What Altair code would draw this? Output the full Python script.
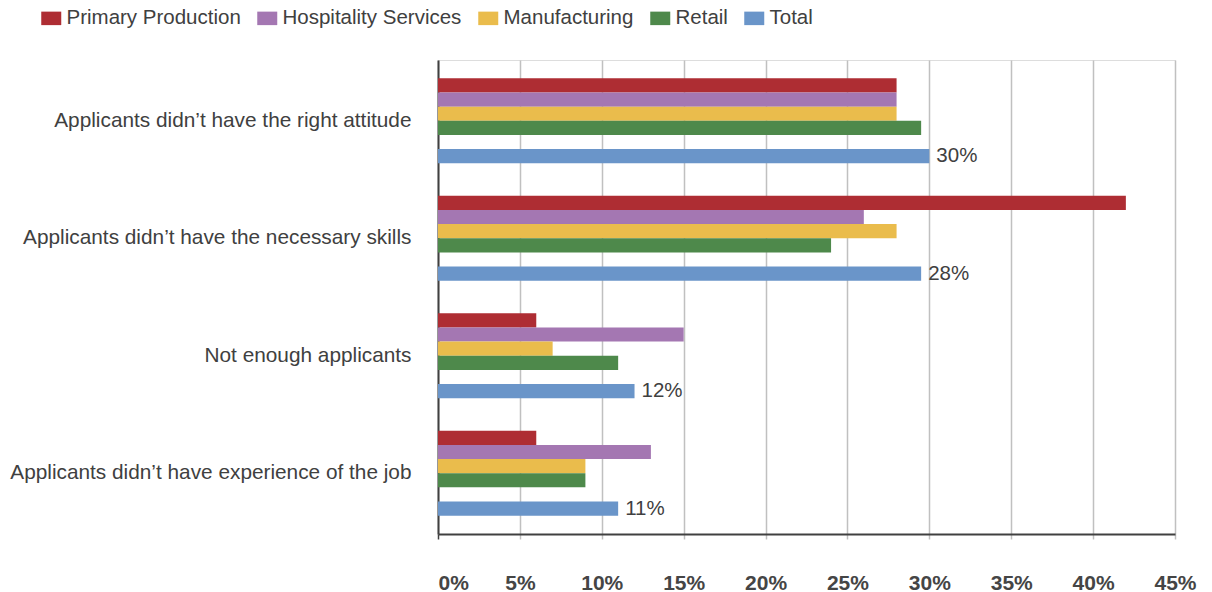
import altair as alt
import pandas as pd

categories = [
    "Applicants didn’t have the right attitude",
    "Applicants didn’t have the necessary skills",
    "Not enough applicants",
    "Applicants didn’t have experience of the job",
]
series = ["Primary Production", "Hospitality Services", "Manufacturing", "Retail", "Total"]
primary = [28, 42, 6, 6]
hospitality = [28, 26, 15, 13]
manufacturing = [28, 28, 7, 9]
retail = [29.5, 24, 11, 9]
total = [30, 29.5, 12, 11]
total_labels = ["30%", "28%", "12%", "11%"]
colors = ["#AE2D33", "#A477B2", "#EABC4C", "#4E894B", "#6A95C9"]
x_ticks = [0, 5, 10, 15, 20, 25, 30, 35, 40, 45]
slot_order = ["Primary Production", "Hospitality Services", "Manufacturing", "Retail", "gap", "Total"]

values_by_series = [primary, hospitality, manufacturing, retail, total]
rows = []
for s, vals in zip(series, values_by_series):
    for i, (c, v) in enumerate(zip(categories, vals)):
        rows.append({
            "category": c,
            "series": s,
            "value": v,
            "label": total_labels[i] if s == "Total" else "",
        })
df = pd.DataFrame(rows)

FONT = "Liberation Sans"
TXT = "#404040"

x_enc = alt.X(
    "value:Q",
    title=None,
    scale=alt.Scale(domain=[0, 45], nice=False, zero=True),
    axis=alt.Axis(
        values=x_ticks,
        labelExpr="datum.value + '%'",
        grid=True,
        gridColor="#c0c0c0",
        gridWidth=1.5,
        domainColor="#404040",
        domainWidth=2,
        tickColor={"condition": {"test": "datum.value === 0", "value": "#404040"}, "value": "#c0c0c0"},
        tickSize=5,
        tickWidth=1.5,
        labelFont=FONT,
        labelFontSize=21,
        labelFontWeight="bold",
        labelColor="#454545",
        labelPadding=33,
        labelAlign={"condition": {"test": "datum.value === 0", "value": "left"}, "value": "center"},
    ),
)
y_enc = alt.Y(
    "category:N",
    title=None,
    sort=categories,
    scale=alt.Scale(domain=categories, paddingInner=0.277, paddingOuter=0.156),
    axis=alt.Axis(
        ticks=False,
        domain=True,
        domainColor="#404040",
        domainWidth=2,
        grid=False,
        labelPadding=27,
        labelFont=FONT,
        labelFontSize=20.8,
        labelColor=TXT,
        labelLimit=0,
    ),
)
yoff_enc = alt.YOffset(
    "series:N",
    sort=slot_order,
    scale=alt.Scale(domain=slot_order, paddingInner=0, paddingOuter=0),
)

bars = alt.Chart(df).mark_bar().encode(
    x=x_enc,
    y=y_enc,
    yOffset=yoff_enc,
    color=alt.Color(
        "series:N",
        sort=series,
        scale=alt.Scale(domain=series, range=colors),
        legend=alt.Legend(
            title=None,
            orient="none",
            legendX=-397,
            legendY=-52,
            direction="horizontal",
            symbolType="M-1,-0.675L1,-0.675L1,0.675L-1,0.675Z",
            symbolSize=400,
            symbolStrokeWidth=0,
            symbolOpacity=1,
            labelFont=FONT,
            labelFontSize=20.5,
            labelColor=TXT,
            labelLimit=0,
            columnPadding=16,
            labelOffset=5,
            padding=0,
        ),
    ),
)

labels = alt.Chart(df).transform_filter(alt.datum.series == "Total").mark_text(
    align="left", baseline="middle", dx=7, font=FONT, fontSize=20.5, color=TXT
).encode(
    x=alt.X("value:Q"),
    y=alt.Y("category:N", sort=categories),
    yOffset=alt.YOffset("series:N", sort=slot_order),
    text="label:N",
)

chart = alt.layer(bars, labels).properties(
    width=737,
    height=474,
    autosize=alt.AutoSizeParams(type="none"),
    padding={"left": 438, "top": 60, "right": 37, "bottom": 58},
).configure_view(stroke=None).configure(background="white")

chart.save("out.html", embed_options={"renderer": "svg", "actions": False})
